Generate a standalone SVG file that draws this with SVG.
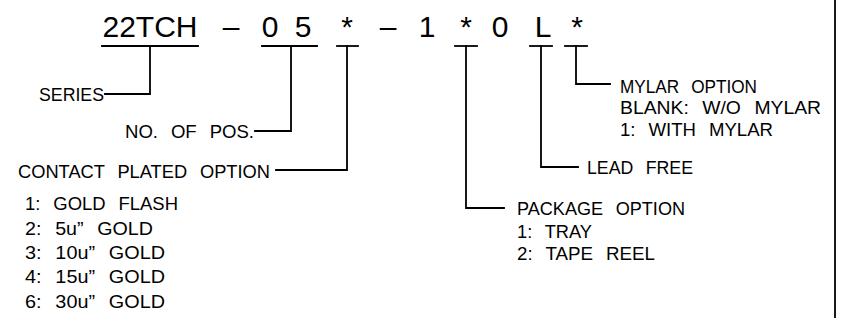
<svg xmlns="http://www.w3.org/2000/svg" width="843" height="320" viewBox="0 0 843 320">
<style>
  .code { font-family: "Liberation Sans", Arial, sans-serif; font-size: 30px; fill: #000; text-anchor: middle; }
  .lbl { font-family: "Liberation Sans", Arial, sans-serif; font-size: 19px; fill: #000; word-spacing: 8px; }
  .ln { stroke: #000; stroke-width: 1.8; fill: none; stroke-linecap: square; }
</style>
<rect width="843" height="320" fill="#fff"/>
<line class="ln" x1="835" y1="0" x2="835" y2="317"/>

<g id="code-series">
  <text class="code" x="150" y="37">22TCH</text>
  <line class="ln" x1="102" y1="46" x2="198" y2="46"/>
</g>
<text class="code" x="231" y="37">–</text>
<g id="code-pos">
  <text class="code" x="270" y="37">0</text>
  <text class="code" x="303" y="37">5</text>
  <line class="ln" x1="262" y1="46" x2="317" y2="46"/>
</g>
<g id="code-plating">
  <text class="code" x="347" y="37">*</text>
  <line class="ln" x1="337" y1="46" x2="358" y2="46"/>
</g>
<text class="code" x="388" y="37">–</text>
<text class="code" x="427" y="37">1</text>
<g id="code-package">
  <text class="code" x="466" y="37">*</text>
  <line class="ln" x1="455" y1="46" x2="477" y2="46"/>
</g>
<text class="code" x="500" y="37">0</text>
<g id="code-lead">
  <text class="code" x="543" y="37">L</text>
  <line class="ln" x1="530" y1="46" x2="552" y2="46"/>
</g>
<g id="code-mylar">
  <text class="code" x="577" y="37">*</text>
  <line class="ln" x1="565" y1="46" x2="587" y2="46"/>
</g>

<g id="connectors">
  <polyline class="ln" points="150,46 150,94 105,94"/>
  <polyline class="ln" points="291,46 291,131 255,131"/>
  <polyline class="ln" points="347,46 347,170 276,170"/>
  <polyline class="ln" points="466,46 466,208 504,208"/>
  <polyline class="ln" points="541,46 541,167 578,167"/>
  <polyline class="ln" points="576,46 576,84 610,84"/>
</g>

<g id="series">
  <text class="lbl" x="39" y="101" textLength="65" lengthAdjust="spacingAndGlyphs">SERIES</text>
</g>
<g id="no-of-pos">
  <text class="lbl" x="125" y="137.5" textLength="129" lengthAdjust="spacingAndGlyphs">NO. OF POS.</text>
</g>
<g id="contact-plated-option">
  <text class="lbl" x="18" y="177.5" textLength="252" lengthAdjust="spacingAndGlyphs">CONTACT PLATED OPTION</text>
  <text class="lbl" x="25" y="210" textLength="153" lengthAdjust="spacingAndGlyphs">1: GOLD FLASH</text>
  <text class="lbl" x="25" y="234.5" textLength="128" lengthAdjust="spacingAndGlyphs">2: 5u” GOLD</text>
  <text class="lbl" x="25" y="258.5" textLength="140" lengthAdjust="spacingAndGlyphs">3: 10u” GOLD</text>
  <text class="lbl" x="25" y="283" textLength="140" lengthAdjust="spacingAndGlyphs">4: 15u” GOLD</text>
  <text class="lbl" x="25" y="307.5" textLength="140" lengthAdjust="spacingAndGlyphs">6: 30u” GOLD</text>
</g>
<g id="package-option">
  <text class="lbl" x="517" y="215" textLength="168" lengthAdjust="spacingAndGlyphs">PACKAGE OPTION</text>
  <text class="lbl" x="517" y="237.5" textLength="75" lengthAdjust="spacingAndGlyphs">1: TRAY</text>
  <text class="lbl" x="517" y="260" textLength="138" lengthAdjust="spacingAndGlyphs">2: TAPE REEL</text>
</g>
<g id="lead-free">
  <text class="lbl" x="587" y="173.5" textLength="106" lengthAdjust="spacingAndGlyphs">LEAD FREE</text>
</g>
<g id="mylar-option">
  <text class="lbl" x="620" y="92.5" textLength="137" lengthAdjust="spacingAndGlyphs">MYLAR OPTION</text>
  <text class="lbl" x="620" y="114" textLength="201" lengthAdjust="spacingAndGlyphs">BLANK: W/O MYLAR</text>
  <text class="lbl" x="620" y="135.5" textLength="153" lengthAdjust="spacingAndGlyphs">1: WITH MYLAR</text>
</g>
</svg>
